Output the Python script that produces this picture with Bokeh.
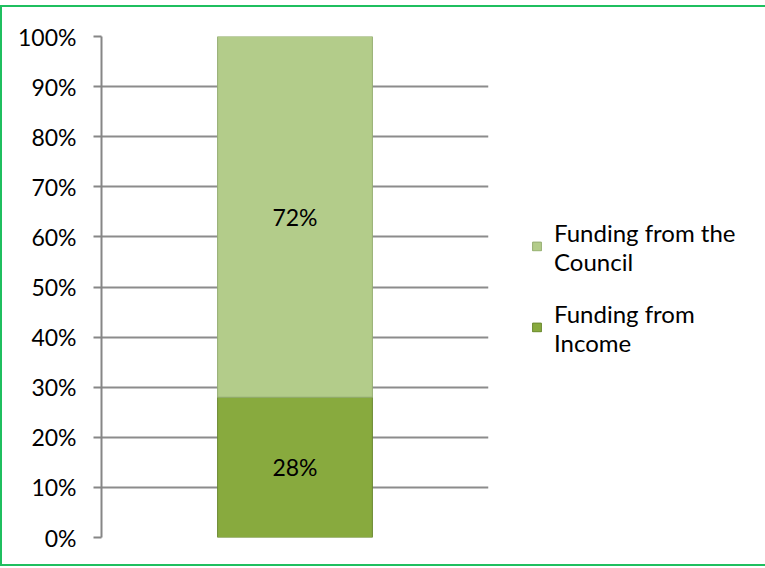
from bokeh.plotting import figure
from bokeh.models import FactorRange, FixedTicker, Legend, LegendItem, ColumnDataSource
from bokeh.core.properties import value
from bokeh.embed import file_html
from bokeh.resources import INLINE

# ---- data ----
categories = ["Funding"]
income = [28]
council = [72]
tick_values = [0, 10, 20, 30, 40, 50, 60, 70, 80, 90, 100]
tick_labels = ["0%", "10%", "20%", "30%", "40%", "50%", "60%", "70%", "80%", "90%", "100%"]
series_names = ["Funding from the\nCouncil", "Funding from\nIncome"]

FONT = "Lato"
COUNCIL_COLOR = "#b3cc8a"
INCOME_COLOR = "#88aa3e"

src = ColumnDataSource(dict(
    cat=categories,
    inc_bottom=[0 for _ in income],
    inc_top=income,
    cou_bottom=income,
    cou_top=[i + c for i, c in zip(income, council)],
    inc_mid=[i / 2 for i in income],
    cou_mid=[i + c / 2 for i, c in zip(income, council)],
    inc_lbl=[f"{v}%" for v in income],
    cou_lbl=[f"{v}%" for v in council],
))

p = figure(
    frame_width=387, frame_height=501,
    x_range=FactorRange(factors=categories, range_padding=0),
    y_range=(0, 100),
    output_backend="svg", toolbar_location=None,
    min_border_left=99, min_border_top=29, min_border_bottom=27, min_border_right=275,
)
p.styles = {
    "border-left": "2px solid #1fbf5f",
    "border-top": "2px solid #1fbf5f",
    "border-bottom": "2px solid #1fbf5f",
    "margin-top": "5px",
}
p.outline_line_color = None
p.background_fill_color = "white"
p.border_fill_color = "white"

inc_r = p.vbar(x="cat", bottom="inc_bottom", top="inc_top", width=0.4, source=src,
               fill_color=INCOME_COLOR, line_color="#6a8830", line_width=1)
cou_r = p.vbar(x="cat", bottom="cou_bottom", top="cou_top", width=0.4, source=src,
               fill_color=COUNCIL_COLOR, line_color="#95ae72", line_width=1)

p.text(x="cat", y="inc_mid", text="inc_lbl", source=src, text_align="center",
       text_baseline="middle", text_font=value(FONT), text_font_size="23px", text_color="black")
p.text(x="cat", y="cou_mid", text="cou_lbl", source=src, text_align="center",
       text_baseline="middle", text_font=value(FONT), text_font_size="23px", text_color="black")

# axes
p.xaxis.visible = False
p.xgrid.visible = False
yax = p.yaxis[0]
yax.ticker = FixedTicker(ticks=tick_values)
yax.major_label_overrides = {v: l for v, l in zip(tick_values, tick_labels)}
yax.axis_line_color = "#868686"
yax.axis_line_width = 2
yax.major_tick_line_color = "#868686"
yax.major_tick_line_width = 2
yax.major_tick_out = 8
yax.major_tick_in = 0
yax.minor_tick_line_color = None
yax.major_label_standoff = 17
yax.major_label_text_font = FONT
yax.major_label_text_font_size = "23px"
yax.major_label_text_color = "black"
p.ygrid.grid_line_color = "#8c8c8c"
p.ygrid.grid_line_width = 2
p.ygrid.ticker = FixedTicker(ticks=tick_values)

legend = Legend(items=[
    LegendItem(label=series_names[0], renderers=[cou_r]),
    LegendItem(label=series_names[1], renderers=[inc_r]),
], location="center_left")
legend.border_line_color = None
legend.background_fill_alpha = 0
legend.label_text_font = FONT
legend.label_text_font_size = "24px"
legend.label_text_color = "black"
legend.label_text_line_height = 1.33
legend.glyph_width = 11
legend.glyph_height = 11
legend.label_standoff = 12
legend.spacing = 23
legend.padding = 0
legend.margin = 43
p.add_layout(legend, "right")

open("out.html", "w").write(file_html(p, INLINE))
